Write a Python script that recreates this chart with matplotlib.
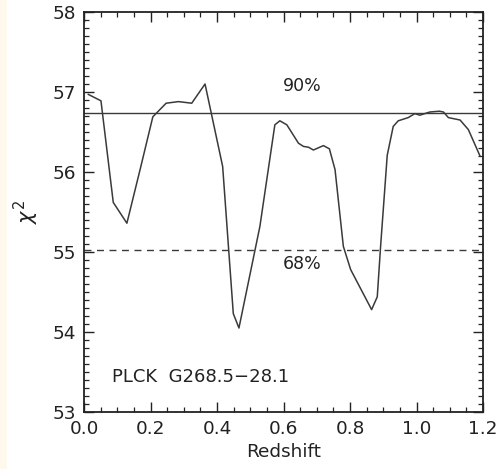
import matplotlib
matplotlib.use("Agg")
import matplotlib.pyplot as plt
from matplotlib.patches import Rectangle
from matplotlib.ticker import MultipleLocator, FormatStrFormatter

plt.rcParams['font.family'] = ['DejaVu Sans']

# chi-square versus trial redshift
redshift = [0.013, 0.051, 0.088, 0.129, 0.171, 0.207, 0.247, 0.284, 0.324, 0.364,
            0.417, 0.449, 0.466, 0.529, 0.574, 0.589, 0.61, 0.645, 0.66, 0.675,
            0.69, 0.72, 0.738, 0.755, 0.78, 0.802, 0.865, 0.882, 0.892, 0.912,
            0.93, 0.945, 0.975, 0.995, 1.01, 1.04, 1.069, 1.081, 1.096, 1.131,
            1.156, 1.191]
chi2 = [56.97, 56.89, 55.62, 55.36, 56.07, 56.69, 56.86, 56.88, 56.86, 57.10,
        56.07, 54.23, 54.05, 55.32, 56.59, 56.64, 56.59, 56.36, 56.32, 56.31,
        56.275, 56.33, 56.29, 56.03, 55.07, 54.78, 54.28, 54.44, 55.07, 56.21,
        56.57, 56.64, 56.68, 56.73, 56.71, 56.75, 56.76, 56.75, 56.68, 56.65,
        56.53, 56.20]

level_90 = 56.74
level_68 = 55.02
cluster_name = "PLCK  G268.5\u221228.1"

fig = plt.figure(figsize=(5.0, 4.69), dpi=100)
fig.patches.append(Rectangle((0, 0), 7 / 500, 1, transform=fig.transFigure,
                             facecolor='#fff8ec', edgecolor='none', zorder=0))
ax = fig.add_axes([0.168, 0.1215, 0.798, 0.8529])

ink = '#222222'
ax.plot(redshift, chi2, color='#3a3a3a', lw=1.1)
ax.axhline(level_90, color='#3a3a3a', lw=1.0)
ax.axhline(level_68, color='#3a3a3a', lw=1.0, ls=(0, (5, 4)))

ax.text(0.656, 57.075, "90%", ha='center', va='center', fontsize=12.5, color=ink)
ax.text(0.656, 54.85, "68%", ha='center', va='center', fontsize=12.5, color=ink)
ax.text(0.083, 53.44, cluster_name, ha='left', va='center', fontsize=13, color=ink)

ax.set_xlim(0.0, 1.2)
ax.set_ylim(53, 58)
ax.xaxis.set_major_locator(MultipleLocator(0.2))
ax.xaxis.set_minor_locator(MultipleLocator(0.05))
ax.yaxis.set_major_locator(MultipleLocator(1))
ax.yaxis.set_minor_locator(MultipleLocator(0.1))
ax.xaxis.set_major_formatter(FormatStrFormatter('%.1f'))
ax.tick_params(which='both', direction='in', top=True, right=True,
               color=ink, labelcolor=ink, labelsize=13.3)
ax.tick_params(which='major', length=7, width=1.0, pad=6)
ax.tick_params(which='minor', length=3.5, width=0.9)
for sp in ax.spines.values():
    sp.set_linewidth(1.3)
    sp.set_color(ink)

ax.set_xlabel("Redshift", fontsize=13.3, color=ink, labelpad=3)
ax.set_ylabel(r"$\chi^2$", fontsize=15, color=ink, labelpad=8)

fig.savefig("out.png", dpi=100)
